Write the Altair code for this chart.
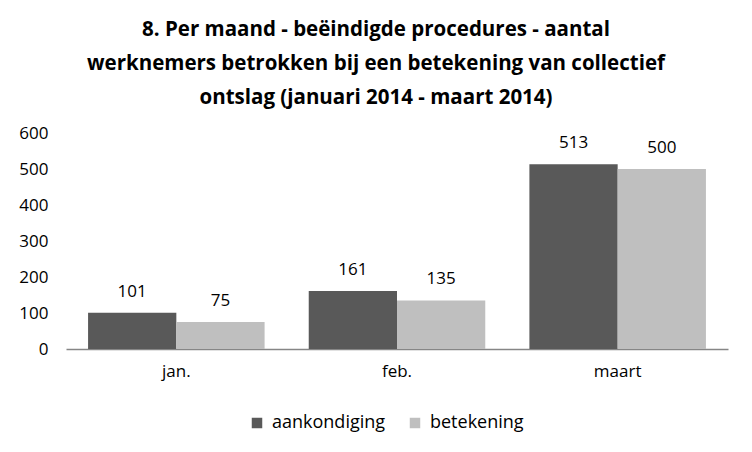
import altair as alt
import pandas as pd

months = ["jan.", "feb.", "maart"]
aankondiging = [101, 161, 513]
betekening = [75, 135, 500]
series = ["aankondiging", "betekening"]
colors = ["#595959", "#BFBFBF"]
y_ticks = [0, 100, 200, 300, 400, 500, 600]
title_lines = [
    "8. Per maand  - beëindigde procedures - aantal",
    "werknemers betrokken bij een betekening van collectief",
    "ontslag (januari 2014 - maart 2014)",
]

rows = []
for i, m in enumerate(months):
    rows.append({"maand": m, "reeks": series[0], "waarde": aankondiging[i]})
    rows.append({"maand": m, "reeks": series[1], "waarde": betekening[i]})
df = pd.DataFrame(rows)

FONT = "Open Sans"

base = alt.Chart(df).encode(
    x=alt.X("maand:N", sort=months, title=None,
            scale=alt.Scale(paddingInner=0.2, paddingOuter=0.1),
            axis=alt.Axis(labelAngle=0, domainColor="#868686", domainWidth=1.5,
                          ticks=False, labelPadding=14, labelFontSize=17,
                          labelColor="#000000", labelFont=FONT)),
    xOffset=alt.XOffset("reeks:N", sort=series, scale=alt.Scale(paddingInner=0, paddingOuter=0)),
    y=alt.Y("waarde:Q", title=None,
            scale=alt.Scale(domain=[0, 600]),
            axis=alt.Axis(values=y_ticks, grid=False, domain=False, ticks=False,
                          labelPadding=18, labelFontSize=17, labelColor="#000000",
                          labelFont=FONT)),
)

bars = base.mark_bar().encode(
    color=alt.Color("reeks:N", sort=series,
                    scale=alt.Scale(domain=series, range=colors),
                    legend=alt.Legend(orient="none", legendX=182, legendY=281,
                                      title=None, direction="horizontal",
                                      symbolType="square", symbolSize=110,
                                      labelFontSize=18, labelFont=FONT, labelColor="#000000",
                                      columnPadding=20, labelOffset=6, symbolStrokeWidth=0))
)

labels = base.mark_text(dy=-16, fontSize=17, font=FONT, color="#000000", baseline="alphabetic").encode(
    text=alt.Text("waarde:Q")
)

chart = (bars + labels).properties(
    width=662, height=216,
    title=alt.TitleParams(title_lines, font=FONT, fontSize=20.5, fontWeight="bold",
                          color="#000000", anchor="middle", frame="group",
                          dx=-21, lineHeight=34, offset=16),
    autosize=alt.AutoSizeParams(type="none"),
    padding={"left": 58, "top": 125, "right": 16, "bottom": 95},
).configure_view(stroke=None)

chart.save("out.html", embed_options={"renderer": "svg", "actions": False})
